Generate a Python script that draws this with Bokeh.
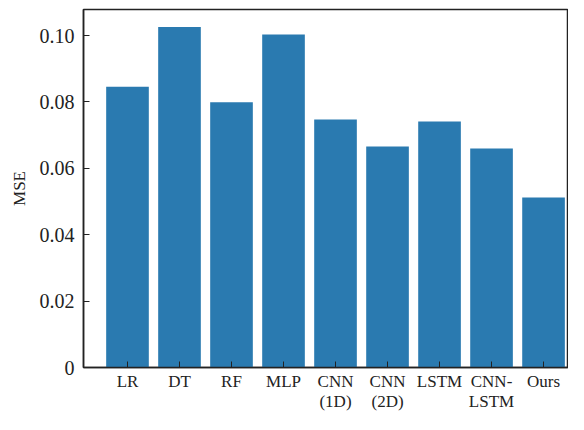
from bokeh.plotting import figure
from bokeh.models import FixedTicker, Range1d
from bokeh.embed import file_html
from bokeh.resources import INLINE

methods = ["LR", "DT", "RF", "MLP", "CNN\n(1D)", "CNN\n(2D)", "LSTM", "CNN-\nLSTM", "Ours"]
mse = [0.0846, 0.1026, 0.0799, 0.1003, 0.0747, 0.0666, 0.0741, 0.0660, 0.0512]
y_ticks = [0, 0.02, 0.04, 0.06, 0.08, 0.10]
y_tick_labels = ["0", "0.02", "0.04", "0.06", "0.08", "0.10"]

FONT = "Liberation Serif"
xs = list(range(len(methods)))

p = figure(width=568, height=414, output_backend="svg", toolbar_location=None,
           x_range=Range1d(-0.846, 8.48), y_range=Range1d(0, 0.10785),
           min_border_left=83, min_border_top=9, min_border_bottom=40, min_border_right=0)

p.vbar(x=xs, top=mse, width=0.82, color="#2a7ab0", line_color=None)

p.grid.visible = False
p.outline_line_color = "#222222"
p.outline_line_width = 1.5

p.xaxis.ticker = FixedTicker(ticks=xs)
p.xaxis.major_label_overrides = {i: m for i, m in enumerate(methods)}
p.yaxis.ticker = FixedTicker(ticks=y_ticks)
p.yaxis.major_label_overrides = {t: l for t, l in zip(y_ticks, y_tick_labels)}

for ax in (p.xaxis, p.yaxis):
    ax.major_tick_in = 6
    ax.major_tick_out = 0
    ax.minor_tick_line_color = None
    ax.axis_line_color = "#222222"
    ax.axis_line_width = 1.5
    ax.major_tick_line_color = "#222222"
    ax.major_label_text_font = FONT
    ax.major_label_text_color = "#222222"

p.xaxis.major_label_text_font_size = "17px"
p.xaxis.major_label_text_line_height = 1.1
p.yaxis.major_label_text_font_size = "20px"
p.xaxis.major_label_standoff = 4
p.yaxis.major_label_standoff = 9

p.yaxis.axis_label = "MSE"
p.yaxis.axis_label_text_font = FONT
p.yaxis.axis_label_text_font_style = "normal"
p.yaxis.axis_label_text_font_size = "17px"
p.yaxis.axis_label_text_color = "#222222"
p.yaxis.axis_label_standoff = 8

open("out.html", "w").write(file_html(p, INLINE))
